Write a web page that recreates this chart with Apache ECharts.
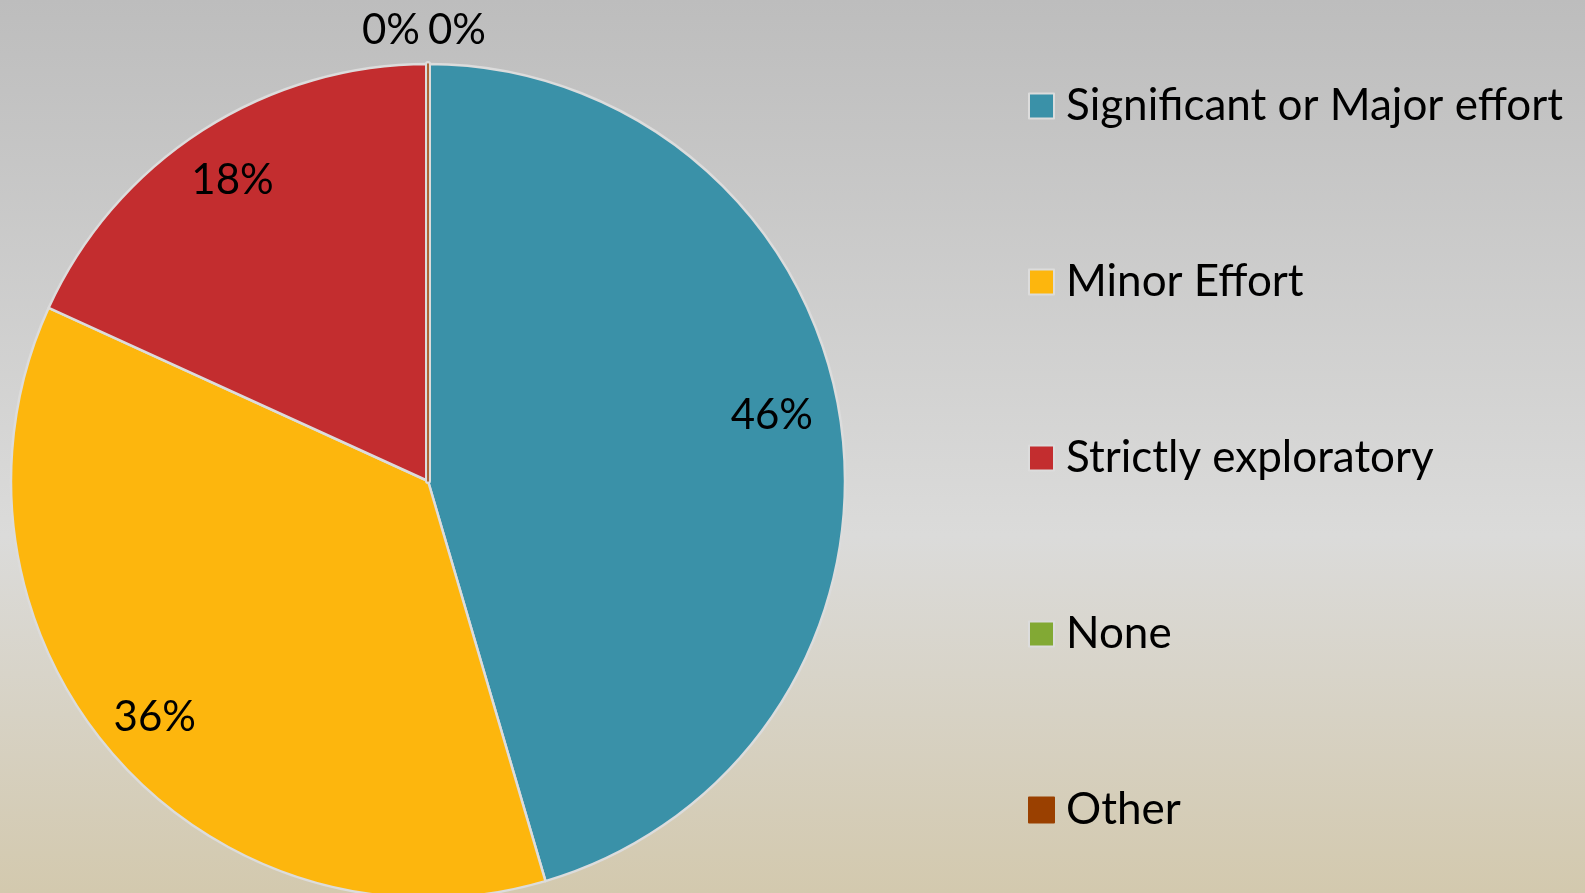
<!DOCTYPE html>
<html>
<head>
<meta charset="utf-8">
<script src="https://cdn.jsdelivr.net/npm/echarts@6/dist/echarts.min.js"></script>
<style>
  html, body { margin: 0; padding: 0; }
  #main { width: 1585px; height: 893px; }
</style>
</head>
<body>
<div id="main"></div>
<script>
// 分类和数值（按图中扇区角度估读）
const categories = ["Significant or Major effort", "Minor Effort", "Strictly exploratory", "None", "Other"];
const values = [45.5, 36.4, 18.2, 0, 0];
const colors = ["#3a91a8", "#fdb60d", "#c32d2f", "#82a934", "#9a4000"];

const pieData = categories.map(function (name, i) {
  const item = { name: name, value: values[i], itemStyle: { color: colors[i] } };
  return item;
});
// 0% 的扇区只剩一条线：None 画成浅灰缝，Other 是中间的细棕线
pieData[3].itemStyle.borderColor = "#dcdcdc";
pieData[3].itemStyle.borderWidth = 6;
pieData[4].itemStyle.borderColor = colors[4];
pieData[4].itemStyle.borderWidth = 1.5;

// 标签放在外圈环上，这样位置更靠近边缘
const labelData = categories.map(function (name, i) {
  return { name: name, value: values[i] };
});
labelData[0].label = { offset: [-14, -14] };
labelData[2].label = { offset: [0, 4] };
labelData[3].label = { offset: [-37, -89] };
labelData[4].label = { offset: [29, -89] };

const option = {
  backgroundColor: new echarts.graphic.LinearGradient(0, 0, 0, 1, [
    { offset: 0, color: "#bdbdbd" },
    { offset: 0.6, color: "#dbdbda" },
    { offset: 1, color: "#d3c9ae" },
  ]),
  animation: false,
  color: colors,
  legend: {
    orient: "vertical",
    left: 1023,
    top: 79,
    itemWidth: 25,
    itemHeight: 25,
    itemGap: 132,
    icon: "rect",
    data: categories,
    textStyle: {
      fontFamily: "Lato",
      fontSize: 44,
      lineHeight: 44,
      color: "#000",
      padding: [0, 0, 0, 7],
    },
  },
  series: [
    {
      type: "pie",
      center: [428, 481],
      radius: 417,
      startAngle: 90,
      clockwise: true,
      data: pieData,
      label: { show: false },
      labelLine: { show: false },
      itemStyle: { borderColor: "#dcdcdc", borderWidth: 2.5 },
      emphasis: { disabled: true },
    },
    {
      // 只用来放百分比标签
      type: "pie",
      center: [428, 481],
      radius: [300, 417],
      startAngle: 90,
      clockwise: true,
      percentPrecision: 0,
      data: labelData,
      silent: true,
      itemStyle: { color: "rgba(0,0,0,0)" },
      label: {
        show: true,
        position: "inside",
        formatter: "{d}%",
        fontFamily: "Lato",
        fontSize: 42,
        color: "#000",
      },
      labelLine: { show: false },
      emphasis: { disabled: true },
    },
  ],
};

const myChart = echarts.init(document.getElementById("main"));
myChart.setOption(option);
</script>
</body>
</html>
